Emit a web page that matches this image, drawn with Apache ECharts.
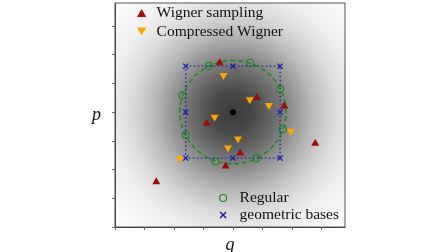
<!DOCTYPE html>
<html>
<head>
<meta charset="utf-8">
<script src="https://cdn.jsdelivr.net/npm/echarts@6/dist/echarts.min.js"></script>
<style>
  html, body { margin: 0; padding: 0; background: #fff; }
  #chart { width: 448px; height: 252px; }
</style>
</head>
<body>
<div id="chart"></div>
<script>
// ticks on both axes (labels hidden)
const qTicks = [-4, -3, -2, -1, 0, 1, 2, 3];
const pTicks = [-4, -3, -2, -1, 0, 1, 2, 3];

// Wigner sampling (red up-triangles)
const wignerQ = [-0.45, 0.81, 1.74, -0.89, 2.79, 0.25, -0.25, -2.6];
const wignerP = [1.75, 0.54, 0.25, -0.35, -1.05, -1.39, -1.84, -2.39];

// Compressed Wigner (orange down-triangles)
const compQ = [-0.32, 0.57, 1.22, -0.62, 1.96, 0.17, -0.17, -1.81];
const compP = [1.24, 0.40, 0.20, -0.21, -0.70, -0.97, -1.28, -1.66];

// Regular bases (green open circles on the dashed circle)
const regularQ = [-0.81, 0.58, 1.6, -1.71, 1.69, -1.6, -0.59, 0.79];
const regularP = [1.61, 1.72, 0.8, 0.58, -0.59, -0.79, -1.72, -1.61];

// geometric bases (blue crosses on the dotted square)
const geomQ = [-1.6, 0, 1.6, -1.6, 1.6, -1.6, 0, 1.6];
const geomP = [1.6, 1.6, 1.6, 0, 0, -1.6, -1.6, -1.6];

const circleR = 1.8;
const squareQ = [-1.6, 1.6, 1.6, -1.6, -1.6];
const squareP = [1.6, 1.6, -1.6, -1.6, 1.6];

const zip = (a, b) => a.map((v, i) => [v, b[i]]);

const red = "#9e0b0b";
const orange = "#ffa500";
const green = "#1f8a1f";
const blue = "#1c1caa";
const serif = "Liberation Serif";
const upTri = "path://M5,0 L10,8.66 L0,8.66 Z";
const downTri = "path://M0,0 L10,0 L5,8.66 Z";
const cross = "path://M1.5,0 L5,3.5 L8.5,0 L10,1.5 L6.5,5 L10,8.5 L8.5,10 L5,6.5 L1.5,10 L0,8.5 L3.5,5 L0,1.5 Z";

const chart = echarts.init(document.getElementById("chart"));

const option = {
  animation: false,
  grid: {
    left: 115,
    right: 103,
    top: 3,
    bottom: 25,
    outerBoundsMode: "none",
    show: true,
    borderColor: "#555",
    borderWidth: 1,
    // gaussian-ish gray blob
    backgroundColor: {
      type: "radial",
      x: 0.514,
      y: 0.488,
      r: 1,
      colorStops: [
        { offset: 0, color: "#3c3c3c" },
        { offset: 0.089, color: "#484848" },
        { offset: 0.179, color: "#696969" },
        { offset: 0.268, color: "#939393" },
        { offset: 0.357, color: "#bbbbbb" },
        { offset: 0.446, color: "#dadada" },
        { offset: 0.536, color: "#ededed" },
        { offset: 0.67, color: "#fafafa" },
        { offset: 1, color: "#ffffff" }
      ]
    }
  },
  xAxis: {
    type: "value",
    min: -4,
    max: 3.8,
    interval: 1,
    name: "q",
    nameLocation: "middle",
    nameGap: 9,
    nameTextStyle: { fontFamily: serif, fontStyle: "italic", fontSize: 18, color: "#111" },
    axisLine: { show: true, onZero: false, lineStyle: { color: "#444" } },
    axisTick: { show: true, length: 3, customValues: qTicks, lineStyle: { color: "#666" } },
    axisLabel: { show: false },
    splitLine: { show: false }
  },
  yAxis: {
    type: "value",
    min: -4,
    max: 3.8,
    interval: 1,
    name: "p",
    nameLocation: "middle",
    nameRotate: 0,
    nameGap: 14,
    nameTextStyle: { fontFamily: serif, fontStyle: "italic", fontSize: 18, color: "#111" },
    axisLine: { show: true, onZero: false, lineStyle: { color: "#444" } },
    axisTick: { show: true, length: 3, customValues: pTicks, lineStyle: { color: "#666" } },
    axisLabel: { show: false },
    splitLine: { show: false }
  },
  legend: [
    {
      orient: "vertical",
      left: 124,
      top: 3,
      padding: [2, 8, 3, 13],
      itemWidth: 20,
      itemHeight: 8,
      itemGap: 2.5,
      textStyle: { fontFamily: serif, fontSize: 15.5, color: "#111", lineHeight: 16 },
      data: [
        { name: "Wigner sampling", icon: upTri, itemStyle: { color: red } },
        { name: "Compressed Wigner", icon: downTri, itemStyle: { color: orange } }
      ]
    },
    {
      orient: "vertical",
      left: 213,
      top: 188,
      padding: [2, 2, 2, 6],
      itemWidth: 23,
      itemHeight: 7,
      itemGap: 1,
      textStyle: { fontFamily: serif, fontSize: 15.5, color: "#111", lineHeight: 15 },
      data: [
        { name: "Regular", icon: "circle", itemStyle: { color: "transparent", borderColor: green, borderWidth: 1.2 } },
        { name: "geometric bases", icon: cross, itemStyle: { color: blue } }
      ]
    }
  ],
  series: [
    {
      type: "custom",
      silent: true,
      encode: { x: 0, y: 1 },
      data: [[0, 0, circleR]],
      renderItem: function (params, api) {
        const cx = api.value(0), cy = api.value(1), r = api.value(2);
        const pts = [];
        for (let i = 0; i <= 160; i++) {
          const t = (i / 160) * Math.PI * 2;
          pts.push(api.coord([cx + r * Math.cos(t), cy + r * Math.sin(t)]));
        }
        return {
          type: "polyline",
          shape: { points: pts },
          style: { stroke: green, fill: "none", lineWidth: 1.5, lineDash: [5, 3] }
        };
      }
    },
    {
      type: "line",
      silent: true,
      symbol: "none",
      data: zip(squareQ, squareP),
      lineStyle: { color: blue, width: 1.3, type: [1.5, 2.5] }
    },
    {
      name: "geometric bases",
      type: "scatter",
      symbol: cross,
      symbolSize: 6,
      itemStyle: { color: blue, opacity: 1 },
      data: zip(geomQ, geomP)
    },
    {
      name: "Regular",
      type: "scatter",
      symbol: "circle",
      symbolSize: 7,
      itemStyle: { color: "transparent", borderColor: green, borderWidth: 1.2, opacity: 1 },
      data: zip(regularQ, regularP)
    },
    {
      name: "Wigner sampling",
      type: "scatter",
      symbol: upTri,
      symbolSize: [8, 7],
      itemStyle: { color: red, opacity: 1 },
      data: zip(wignerQ, wignerP)
    },
    {
      name: "Compressed Wigner",
      type: "scatter",
      symbol: downTri,
      symbolSize: [8, 7],
      itemStyle: { color: orange, opacity: 1 },
      data: zip(compQ, compP)
    },
    {
      type: "scatter",
      symbol: "circle",
      symbolSize: 6,
      itemStyle: { color: "#000", opacity: 1 },
      data: [[0, 0]]
    }
  ]
};

chart.setOption(option);
</script>
</body>
</html>
